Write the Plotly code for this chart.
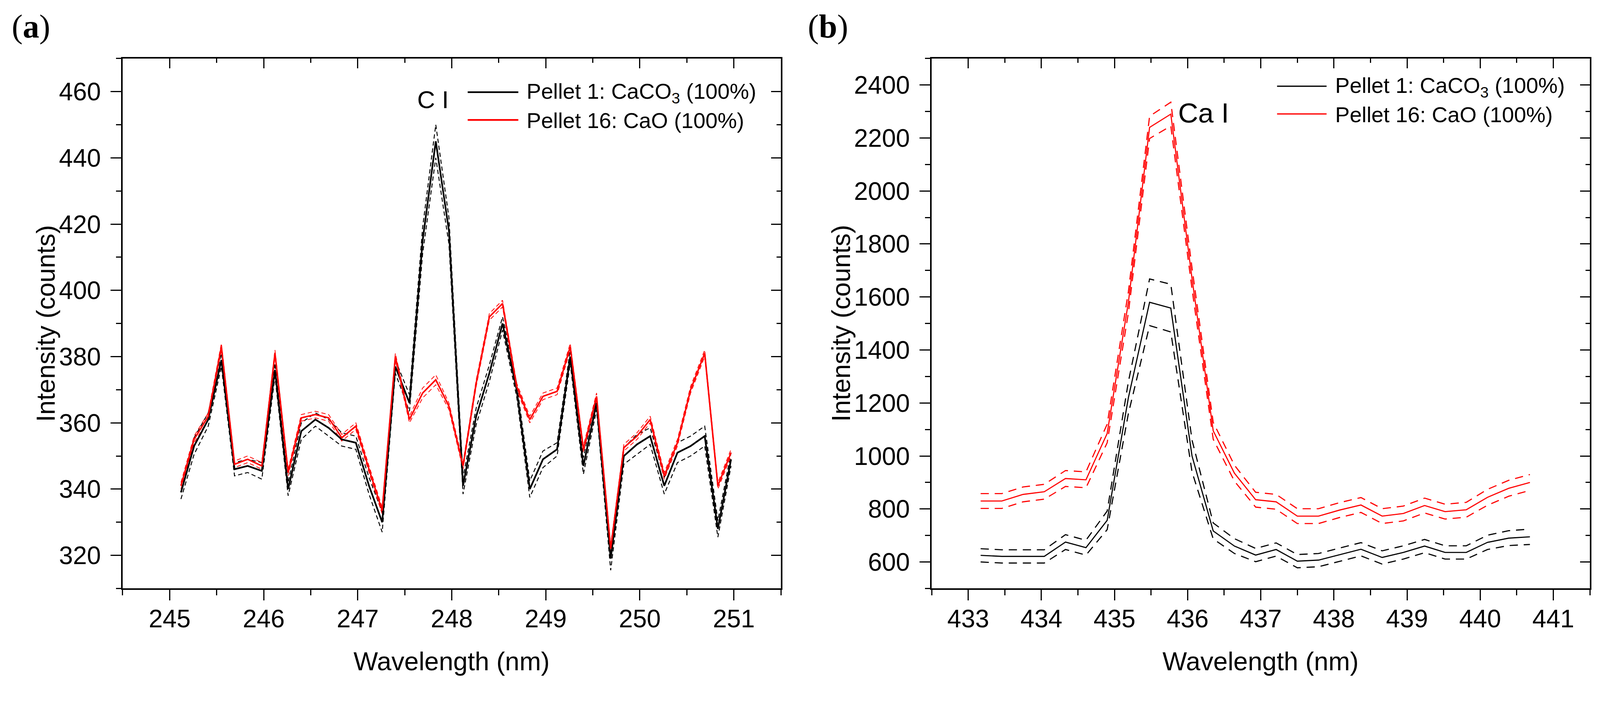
import plotly.graph_objects as go

# panel (a): C I region
wl_a = [245.12, 245.26, 245.41, 245.55, 245.69, 245.83, 245.98, 246.12, 246.26, 246.40,
        246.55, 246.69, 246.83, 246.98, 247.12, 247.26, 247.40, 247.55, 247.69, 247.83,
        247.97, 248.12, 248.26, 248.40, 248.54, 248.69, 248.83, 248.97, 249.12, 249.26,
        249.40, 249.54, 249.69, 249.83, 249.97, 250.11, 250.26, 250.40, 250.54, 250.69,
        250.83, 250.97]
caco3_a = [339, 353, 361, 379, 346, 347, 345.5, 376, 340, 357.5,
           361, 358.5, 355, 354, 341, 330, 377, 366, 415, 445,
           418, 341, 362, 375, 390, 370, 340, 349, 352, 380,
           347, 366, 319, 350, 353.5, 356, 341, 351, 353, 356,
           328, 349]
caco3_a_sd = [2, 2.5, 2, 2, 2, 2, 2.5, 2, 2, 2.5,
              2, 2.5, 2, 2, 2.5, 3, 2, 2.5, 4, 5,
              4, 2.5, 2.5, 2.5, 2, 2, 2.5, 2.5, 2, 2,
              2.5, 2, 3.5, 2.5, 3, 2.5, 2.5, 3, 3, 3,
              2.5, 2]
cao_a = [341, 355, 362, 383, 347.5, 349, 347, 381, 345, 361.5,
         362.5, 361.5, 355.5, 359, 346, 333.5, 380, 361, 369, 373,
         365, 347, 372, 392, 396, 371, 361, 368, 369.5, 383,
         352, 368, 322, 352.5, 356, 361, 344, 354, 370, 381,
         341, 351]
cao_a_sd = [1, 1, 1, 1, 1, 1, 1, 1, 1, 1,
            1, 1, 1, 1, 1, 1, 1, 1, 1.5, 1.5,
            1, 1, 1, 1, 1, 1, 1, 1, 1, 1,
            1, 1, 1, 1, 1, 1, 1, 1, 1, 1,
            1, 1]

# panel (b): Ca I region
wl_b = [433.17, 433.46, 433.75, 434.04, 434.33, 434.61, 434.90, 435.19, 435.48, 435.77,
        436.06, 436.35, 436.64, 436.93, 437.21, 437.50, 437.79, 438.08, 438.37, 438.66,
        438.95, 439.24, 439.52, 439.81, 440.10, 440.39, 440.68]
caco3_b = [625, 621, 621, 621, 675, 654, 757, 1220, 1580, 1558,
           1000, 717, 660, 626, 647, 603, 607, 628, 648, 617,
           636, 660, 636, 636, 674, 690, 695]
caco3_b_sd = [25, 25, 25, 25, 28, 28, 35, 60, 88, 90,
              60, 30, 28, 25, 25, 25, 25, 25, 25, 25,
              25, 25, 25, 25, 27, 28, 29]
cao_b = [830, 830, 855, 865, 915, 910, 1085, 1580, 2240, 2290,
         1670, 1095, 935, 835, 827, 773, 773, 796, 815, 773,
         783, 813, 790, 797, 844, 878, 900]
cao_b_sd = [28, 28, 28, 28, 30, 30, 35, 40, 42, 45,
            40, 32, 30, 28, 28, 28, 28, 28, 28, 28,
            28, 28, 28, 28, 30, 30, 30]

names = ["Pellet 1: CaCO<sub>3</sub> (100%)", "Pellet 16: CaO (100%)"]
colors = ["#000000", "#ff0000"]
FONT = "Liberation Sans, Arial, sans-serif"
SERIF = "Liberation Serif, Times New Roman, serif"

# the page is photographed at 4266x1829 from a smaller css viewport
K = 4096 / 4266
FW, FH = 4078, 1738


def px(X):
    return (X * K - 8) / FW


def py(Y):
    return 1 - (Y * K - 8) / FH


def s(v):
    return v * K


fig = go.Figure()


def add_series(x, mean, sd, name, color, axes, over, w, dw, dash):
    hi = [m + d for m, d in zip(mean, sd)]
    lo = [m - d for m, d in zip(mean, sd)]
    for band in (hi, lo):
        fig.add_trace(go.Scatter(x=x, y=band, mode="lines", xaxis=axes[0], yaxis=axes[1],
                                 line=dict(color=color, width=dw, dash=dash),
                                 showlegend=False, hoverinfo="skip"))
    fig.add_trace(go.Scatter(x=x, y=mean, mode="lines", name=name,
                             xaxis=over[0], yaxis=over[1], showlegend=False,
                             line=dict(color=color, width=w)))


dash_a = "%dpx,%dpx" % (s(12), s(8))
dash_b = "%dpx,%dpx" % (s(22), s(16))
add_series(wl_a, caco3_a, caco3_a_sd, names[0], colors[0], ("x", "y"), ("x3", "y3"), s(4.5), s(2.5), dash_a)
add_series(wl_a, cao_a, cao_a_sd, names[1], colors[1], ("x", "y"), ("x3", "y3"), s(4), s(2), dash_a)
add_series(wl_b, caco3_b, caco3_b_sd, names[0], colors[0], ("x2", "y2"), ("x4", "y4"), s(3), s(3), dash_b)
add_series(wl_b, cao_b, cao_b_sd, names[1], colors[1], ("x2", "y2"), ("x4", "y4"), s(3), s(3), dash_b)

dom_a = [px(327), px(2082)]
dom_b = [px(2484), px(4239)]
dom_y = [py(1570), py(156)]

tickfont = dict(family=FONT, size=s(67), color="black")


def main_axis(dom, rng, dtick, minor, anchor, standoff):
    return dict(domain=dom, range=rng, anchor=anchor, dtick=dtick, mirror=True,
                showgrid=False, zeroline=False, showline=True, linecolor="black",
                linewidth=s(4), ticks="outside", ticklen=s(28), tickwidth=s(3), tickcolor="black",
                minor=dict(dtick=minor, ticks="outside", ticklen=s(14), tickwidth=s(3),
                           tickcolor="black", showgrid=False),
                tickfont=tickfont, ticklabelstandoff=standoff)


# top and right axes only carry the inward ticks
def mirror_axis(over, rng, dtick, minor, side, anchor):
    return dict(overlaying=over, side=side, anchor=anchor, range=rng, dtick=dtick,
                showgrid=False, zeroline=False, showline=False,
                ticks="inside", ticklen=s(26), tickwidth=s(3), tickcolor="black",
                minor=dict(dtick=minor, ticks="inside", ticklen=s(12), tickwidth=s(3),
                           tickcolor="black", showgrid=False),
                showticklabels=False)


xr_a, yr_a = [244.5, 251.5], [310, 470]
xr_b, yr_b = [432.5, 441.5], [500, 2500]

fig.update_layout(
    width=FW, height=FH,
    margin=dict(l=0, r=0, t=0, b=0),
    paper_bgcolor="white", plot_bgcolor="white",
    font=dict(family=FONT, color="black"),
    showlegend=False,
    xaxis=main_axis(dom_a, xr_a, 1, 0.5, "y", -8),
    yaxis=main_axis(dom_y, yr_a, 20, 10, "x", 12),
    xaxis2=main_axis(dom_b, xr_b, 1, 0.5, "y2", -8),
    yaxis2=main_axis(dom_y, yr_b, 200, 100, "x2", 12),
    xaxis3=mirror_axis("x", xr_a, 1, 0.5, "top", "y"),
    yaxis3=mirror_axis("y", yr_a, 20, 10, "right", "x"),
    xaxis4=mirror_axis("x2", xr_b, 1, 0.5, "top", "y2"),
    yaxis4=mirror_axis("y2", yr_b, 200, 100, "right", "x2"),
)

# axis titles
for cx in (1204, 3361):
    fig.add_annotation(x=px(cx), y=py(1764), xref="paper", yref="paper", text="Wavelength (nm)",
                       showarrow=False, xanchor="center", yanchor="middle",
                       font=dict(family=FONT, size=s(69), color="black"))
for cx in (121, 2242):
    fig.add_annotation(x=px(cx), y=py(863), xref="paper", yref="paper", text="Intensity (counts)",
                       showarrow=False, textangle=-90, xanchor="center", yanchor="middle",
                       font=dict(family=FONT, size=s(69), color="black"))

# legends, one per panel
legend_rows = [
    (1247, 1382, 1402, [246, 320], s(4.5), s(58)),
    (3405, 3537, 3558, [230, 304], s(3.5), s(58)),
]
for x0, x1, tx, rows, lw, fs in legend_rows:
    for name, color, ry in zip(names, colors, rows):
        fig.add_shape(type="line", xref="paper", yref="paper", x0=px(x0), x1=px(x1),
                      y0=py(ry), y1=py(ry), line=dict(color=color, width=lw))
        fig.add_annotation(x=px(tx), y=py(ry + 2), xref="paper", yref="paper", text=name,
                           showarrow=False, xanchor="left", yanchor="middle",
                           font=dict(family=FONT, size=fs, color="black"))

# line labels and panel letters
fig.add_annotation(x=247.80, y=457.6, xref="x", yref="y", text="C I", showarrow=False,
                   font=dict(family=FONT, size=s(66), color="black"))
fig.add_annotation(x=435.86, y=2294, xref="x2", yref="y2", text="Ca I", showarrow=False,
                   xanchor="left", font=dict(family=FONT, size=s(74), color="black"))
for lx, letter in ((29, "a"), (2152, "b")):
    fig.add_annotation(x=px(lx), y=py(20), xref="paper", yref="paper", text="(<b>%s</b>)" % letter,
                       showarrow=False, xanchor="left", yanchor="top",
                       font=dict(family=SERIF, size=s(88), color="black"))

fig.write_html("out.html")
